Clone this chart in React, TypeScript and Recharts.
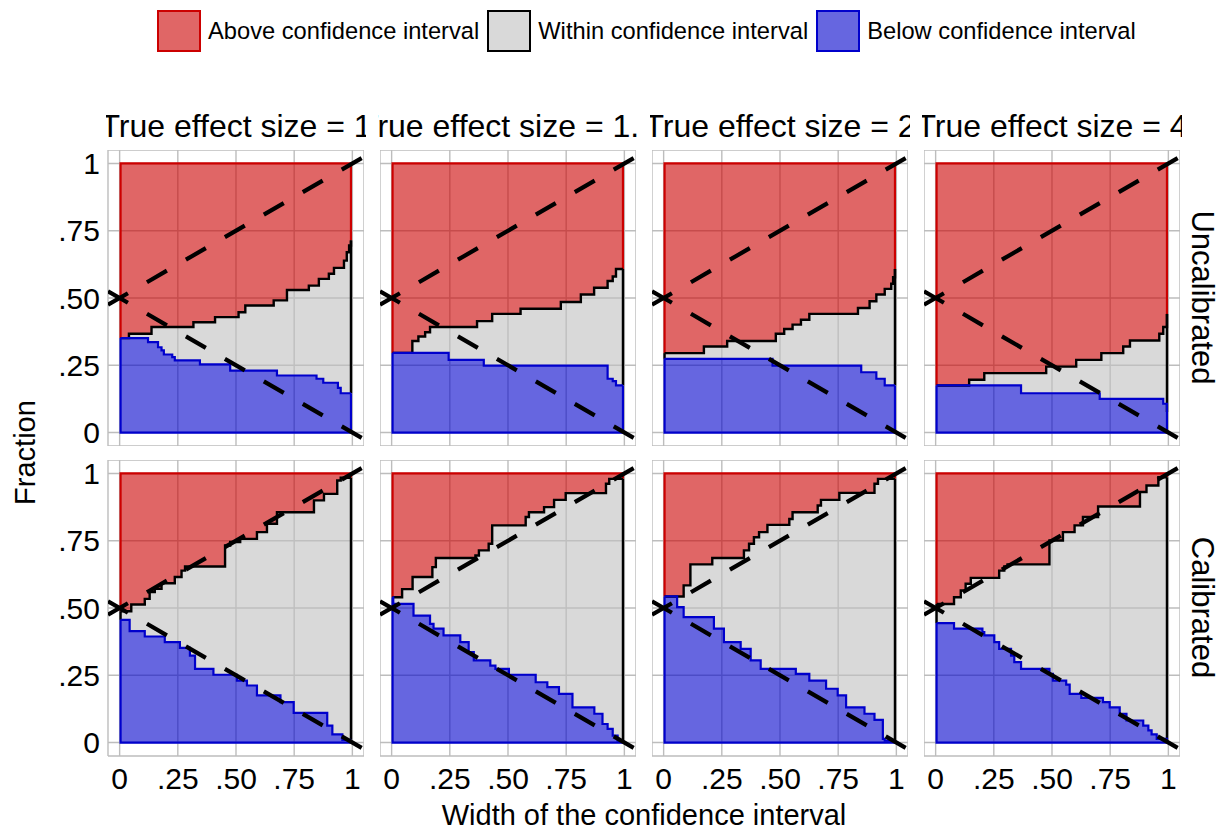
import React from 'react';
import { ComposedChart, Area, Line, XAxis, YAxis, CartesianGrid } from 'recharts';

const FONT = '"Liberation Sans", Arial, Helvetica, sans-serif';

const effectSizes = ['1', '1.5', '2', '4'];
const rowLabels = ['Uncalibrated', 'Calibrated'];
const xTicks = [0, 0.25, 0.5, 0.75, 1];
const xTickLabels = ['0', '.25', '.50', '.75', '1'];
const yTicks = [0, 0.25, 0.5, 0.75, 1];
const yTickLabels = ['0', '.25', '.50', '.75', '1'];
const legendLabels = ['Above confidence interval', 'Within confidence interval', 'Below confidence interval'];
const xTitle = 'Width of the confidence interval';
const yTitle = 'Fraction';

// expected bounds (dashed)
const diagX = [-0.05, 1.05];
const diagUpperY = [0.475, 1.025];
const diagLowerY = [0.525, -0.025];

// step change points [x, fraction]
const uncal1Upper: [number, number][] = [[0.004,0.351],[0.040,0.367],[0.137,0.392],[0.317,0.410],[0.410,0.429],[0.511,0.447],[0.540,0.472],[0.662,0.491],[0.719,0.530],[0.813,0.546],[0.856,0.571],[0.899,0.590],[0.921,0.612],[0.964,0.639],[0.976,0.670],[0.986,0.695],[0.994,0.714]];
const uncal1Lower: [number, number][] = [[0.004,0.351],[0.122,0.336],[0.165,0.317],[0.180,0.305],[0.190,0.290],[0.226,0.280],[0.237,0.268],[0.345,0.253],[0.475,0.230],[0.676,0.212],[0.846,0.200],[0.875,0.185],[0.938,0.166],[0.950,0.146],[0.994,0.146]];
const uncal15Upper: [number, number][] = [[0.004,0.296],[0.089,0.340],[0.115,0.357],[0.144,0.373],[0.165,0.392],[0.367,0.414],[0.432,0.441],[0.554,0.460],[0.727,0.485],[0.813,0.513],[0.870,0.538],[0.928,0.563],[0.950,0.580],[0.964,0.608],[0.994,0.608]];
const uncal15Lower: [number, number][] = [[0.004,0.296],[0.245,0.270],[0.396,0.249],[0.928,0.200],[0.950,0.191],[0.964,0.175],[0.994,0.175]];
const uncal2Upper: [number, number][] = [[0.004,0.295],[0.173,0.320],[0.273,0.340],[0.482,0.367],[0.518,0.385],[0.554,0.401],[0.590,0.419],[0.626,0.441],[0.835,0.463],[0.885,0.488],[0.914,0.513],[0.950,0.534],[0.978,0.553],[0.986,0.577],[0.994,0.608]];
const uncal2Lower: [number, number][] = [[0.004,0.274],[0.468,0.249],[0.849,0.224],[0.914,0.200],[0.950,0.175],[0.994,0.175]];
const uncal4Upper: [number, number][] = [[0.004,0.175],[0.144,0.196],[0.209,0.221],[0.475,0.245],[0.604,0.270],[0.712,0.295],[0.806,0.320],[0.835,0.342],[0.961,0.367],[0.978,0.392],[0.994,0.441]];
const uncal4Lower: [number, number][] = [[0.004,0.175],[0.367,0.146],[0.705,0.125],[0.978,0.107],[0.994,0.076]];
const cal1Upper: [number, number][] = [[0.004,0.488],[0.050,0.513],[0.108,0.534],[0.129,0.559],[0.151,0.571],[0.180,0.592],[0.237,0.615],[0.266,0.639],[0.281,0.654],[0.453,0.732],[0.475,0.745],[0.518,0.757],[0.590,0.782],[0.633,0.813],[0.676,0.856],[0.835,0.900],[0.878,0.924],[0.935,0.974],[0.950,0.984],[0.994,0.984]];
const cal1Lower: [number, number][] = [[0.004,0.456],[0.043,0.414],[0.108,0.394],[0.194,0.373],[0.259,0.352],[0.302,0.323],[0.324,0.274],[0.403,0.252],[0.504,0.230],[0.547,0.212],[0.590,0.175],[0.691,0.150],[0.748,0.110],[0.892,0.063],[0.914,0.030],[0.957,0.010],[0.994,0.010]];
const cal15Upper: [number, number][] = [[0.004,0.540],[0.045,0.570],[0.090,0.615],[0.175,0.652],[0.190,0.686],[0.360,0.695],[0.375,0.714],[0.417,0.739],[0.432,0.807],[0.576,0.838],[0.590,0.856],[0.655,0.875],[0.698,0.902],[0.748,0.927],[0.921,0.962],[0.935,0.980],[0.994,0.980]];
const cal15Lower: [number, number][] = [[0.004,0.540],[0.007,0.515],[0.094,0.472],[0.165,0.441],[0.180,0.423],[0.223,0.398],[0.295,0.373],[0.331,0.336],[0.353,0.305],[0.424,0.286],[0.446,0.274],[0.504,0.252],[0.619,0.224],[0.669,0.206],[0.719,0.181],[0.777,0.131],[0.871,0.107],[0.906,0.069],[0.928,0.051],[0.950,0.026],[0.971,0.007],[0.994,0.007]];
const cal2Upper: [number, number][] = [[0.004,0.543],[0.086,0.584],[0.115,0.662],[0.209,0.686],[0.345,0.714],[0.367,0.739],[0.388,0.763],[0.410,0.782],[0.446,0.809],[0.540,0.831],[0.554,0.856],[0.662,0.881],[0.676,0.902],[0.755,0.928],[0.906,0.962],[0.921,0.980],[0.994,0.980]];
const cal2Lower: [number, number][] = [[0.004,0.543],[0.058,0.503],[0.086,0.466],[0.216,0.423],[0.259,0.373],[0.331,0.348],[0.374,0.305],[0.417,0.274],[0.568,0.255],[0.626,0.230],[0.698,0.200],[0.748,0.175],[0.784,0.131],[0.863,0.107],[0.906,0.084],[0.942,0.014],[0.950,0.007],[0.994,0.007]];
const cal4Upper: [number, number][] = [[0.004,0.515],[0.079,0.540],[0.108,0.565],[0.129,0.590],[0.151,0.612],[0.273,0.639],[0.295,0.654],[0.309,0.662],[0.489,0.751],[0.547,0.782],[0.597,0.807],[0.633,0.838],[0.698,0.877],[0.878,0.931],[0.906,0.955],[0.957,0.986],[0.994,0.986]];
const cal4Lower: [number, number][] = [[0.004,0.444],[0.079,0.423],[0.201,0.410],[0.209,0.398],[0.252,0.373],[0.273,0.348],[0.324,0.323],[0.338,0.299],[0.367,0.274],[0.489,0.255],[0.504,0.230],[0.561,0.215],[0.576,0.181],[0.626,0.166],[0.719,0.150],[0.748,0.131],[0.791,0.107],[0.820,0.082],[0.892,0.063],[0.914,0.045],[0.928,0.030],[0.950,0.014],[0.994,0.007]];

const panelSeries = [
  [[uncal1Upper, uncal1Lower], [uncal15Upper, uncal15Lower], [uncal2Upper, uncal2Lower], [uncal4Upper, uncal4Lower]],
  [[cal1Upper, cal1Lower], [cal15Upper, cal15Lower], [cal2Upper, cal2Lower], [cal4Upper, cal4Lower]],
];

const RED = '#CC0000';
const BLUE = '#0000CC';
const GREY = '#BFBFBF';
const ALPHA = 0.6;

// layout
const PANEL_W = 256;
const PANEL_H = 296;
const COL_STEP = 272;
const ROW_STEP = 310;
const PANEL_LEFT0 = 108;
const PANEL_TOP0 = 149.5;

function stepValue(pts: [number, number][], x: number) {
  let v = pts[0][1];
  for (const [px, py] of pts) {
    if (px <= x + 1e-9) v = py;
    else break;
  }
  return v;
}

function buildTable(upper: [number, number][], lower: [number, number][]) {
  const xs = Array.from(new Set([...upper.map((p) => p[0]), ...lower.map((p) => p[0])])).sort((a, b) => a - b);
  return xs.map((x) => {
    const u = stepValue(upper, x);
    const l = Math.min(stepValue(lower, x), u);
    return { x, u, l, red: [u, 1], grey: [l, u], blue: [0, l] };
  });
}

const diagUpper = diagX.map((x, i) => ({ x, y: diagUpperY[i] }));
const diagLower = diagX.map((x, i) => ({ x, y: diagLowerY[i] }));

function Panel({ row, col }: { row: number; col: number }) {
  const [upper, lower] = panelSeries[row][col] as [[number, number][], [number, number][]];
  const table = buildTable(upper, lower);
  const first = table[0];
  const last = table[table.length - 1];
  const redOutline = [
    { x: first.x, y: first.u },
    { x: first.x, y: 1 },
    { x: last.x, y: 1 },
    { x: last.x, y: last.u },
  ];
  const blackLeft = [{ x: first.x, y: first.l }, { x: first.x, y: first.u }];
  const blackRight = [{ x: last.x, y: last.l }, { x: last.x, y: last.u }];
  const blueOutline = [
    { x: first.x, y: first.l },
    { x: first.x, y: 0 },
    { x: last.x, y: 0 },
    { x: last.x, y: last.l },
  ];
  const showY = col === 0;
  const showX = row === 1;
  const yAxisW = showY ? PANEL_LEFT0 : 0;
  const xAxisH = showX ? 60 : 0;
  const left = PANEL_LEFT0 + COL_STEP * col - yAxisW;
  const top = PANEL_TOP0 + ROW_STEP * row;
  const tickStyle = { fontSize: 30, fill: '#000', fontFamily: FONT };
  return (
    <div style={{ position: 'absolute', left, top }}>
      <ComposedChart
        width={PANEL_W + yAxisW}
        height={PANEL_H + xAxisH}
        data={table}
        margin={{ top: 0, right: 0, bottom: 0, left: 0 }}
      >
        <CartesianGrid stroke="#bdbdbd" strokeWidth={1.4} />
        <XAxis
          dataKey="x"
          type="number"
          domain={[-0.05, 1.05]}
          allowDataOverflow
          ticks={xTicks}
          interval={0}
          tickFormatter={(v: number) => xTickLabels[xTicks.indexOf(v)]}
          hide={!showX}
          height={showX ? xAxisH : undefined}
          tickLine={false}
          axisLine={false}
          tickSize={0}
          tickMargin={12}
          tick={tickStyle}
        />
        <YAxis
          type="number"
          domain={[-0.05, 1.05]}
          allowDataOverflow
          ticks={yTicks}
          interval={0}
          tickFormatter={(v: number) => yTickLabels[yTicks.indexOf(v)]}
          hide={!showY}
          width={showY ? yAxisW : undefined}
          tickLine={false}
          axisLine={false}
          tickSize={0}
          tickMargin={8}
          tick={tickStyle}
        />
        <Area dataKey="red" type="stepAfter" fill={RED} fillOpacity={ALPHA} stroke="none" isAnimationActive={false} />
        <Area dataKey="grey" type="stepAfter" fill={GREY} fillOpacity={ALPHA} stroke="none" isAnimationActive={false} />
        <Area dataKey="blue" type="stepAfter" fill={BLUE} fillOpacity={ALPHA} stroke="none" isAnimationActive={false} />
        <Line data={redOutline} dataKey="y" type="linear" stroke={RED} strokeWidth={2.2} dot={false} activeDot={false} isAnimationActive={false} />
        <Line dataKey="u" type="stepAfter" stroke="#000" strokeWidth={2.4} dot={false} activeDot={false} isAnimationActive={false} />
        <Line data={blackLeft} dataKey="y" type="linear" stroke="#000" strokeWidth={2.4} dot={false} activeDot={false} isAnimationActive={false} />
        <Line data={blackRight} dataKey="y" type="linear" stroke="#000" strokeWidth={2.4} dot={false} activeDot={false} isAnimationActive={false} />
        <Line dataKey="l" type="stepAfter" stroke={BLUE} strokeWidth={2.2} dot={false} activeDot={false} isAnimationActive={false} />
        <Line data={blueOutline} dataKey="y" type="linear" stroke={BLUE} strokeWidth={2.2} dot={false} activeDot={false} isAnimationActive={false} />
        <Line data={diagUpper} dataKey="y" type="linear" stroke="#000" strokeWidth={4.2} strokeDasharray="23 22" dot={false} activeDot={false} isAnimationActive={false} />
        <Line data={diagLower} dataKey="y" type="linear" stroke="#000" strokeWidth={4.2} strokeDasharray="23 22" dot={false} activeDot={false} isAnimationActive={false} />
      </ComposedChart>
    </div>
  );
}

const legendColors = [
  { fill: 'rgb(224,102,102)', stroke: RED },
  { fill: 'rgb(217,217,217)', stroke: '#000' },
  { fill: 'rgb(102,102,224)', stroke: BLUE },
];

export default function App() {
  return (
    <div style={{ position: 'absolute', left: 0, top: 0, width: 1225, height: 830, background: '#fff', fontFamily: FONT, color: '#000', overflow: 'hidden' }}>
      {/* legend */}
      <div style={{ position: 'absolute', left: 157, top: 10, display: 'flex', alignItems: 'center', height: 41 }}>
        {legendLabels.map((lab, i) => (
          <div key={lab} style={{ display: 'flex', alignItems: 'center' }}>
            <div style={{ width: 40, height: 38, border: `2px solid ${legendColors[i].stroke}`, background: legendColors[i].fill }} />
            <div style={{ marginLeft: 7, marginRight: 8, fontSize: 23.7, lineHeight: '24px', whiteSpace: 'nowrap' }}>{lab}</div>
          </div>
        ))}
      </div>
      {/* strip titles (clipped to the panel width, as in the original) */}
      {effectSizes.map((es, c) => (
        <div key={es} style={{ position: 'absolute', left: PANEL_LEFT0 + COL_STEP * c - 2, top: 110, width: PANEL_W + 4, height: 36, overflow: 'hidden' }}>
          <span style={{ position: 'absolute', left: '50%', top: 0, transform: 'translateX(-50%)', whiteSpace: 'nowrap', fontSize: 32, lineHeight: '32px' }}>
            True effect size = {es}
          </span>
        </div>
      ))}
      {/* row strips */}
      {rowLabels.map((lab, r) => (
        <div key={lab} style={{ position: 'absolute', left: 1202 - 150, top: 163 + ROW_STEP * r + 134.5 - 15.5, width: 300, height: 31, lineHeight: '31px', fontSize: 31, textAlign: 'center', whiteSpace: 'nowrap', transform: 'rotate(90deg)' }}>
          {lab}
        </div>
      ))}
      {/* y title */}
      <div style={{ position: 'absolute', left: 25 - 100, top: 452 - 14.5, width: 200, height: 29, lineHeight: '29px', fontSize: 29, textAlign: 'center', transform: 'rotate(-90deg)' }}>
        {yTitle}
      </div>
      {/* x title */}
      <div style={{ position: 'absolute', left: 644 - 300, top: 800.5, width: 600, height: 29, lineHeight: '29px', fontSize: 29, textAlign: 'center', whiteSpace: 'nowrap' }}>
        {xTitle}
      </div>
      {[0, 1].map((r) => [0, 1, 2, 3].map((c) => <Panel key={`${r}-${c}`} row={r} col={c} />))}
    </div>
  );
}
